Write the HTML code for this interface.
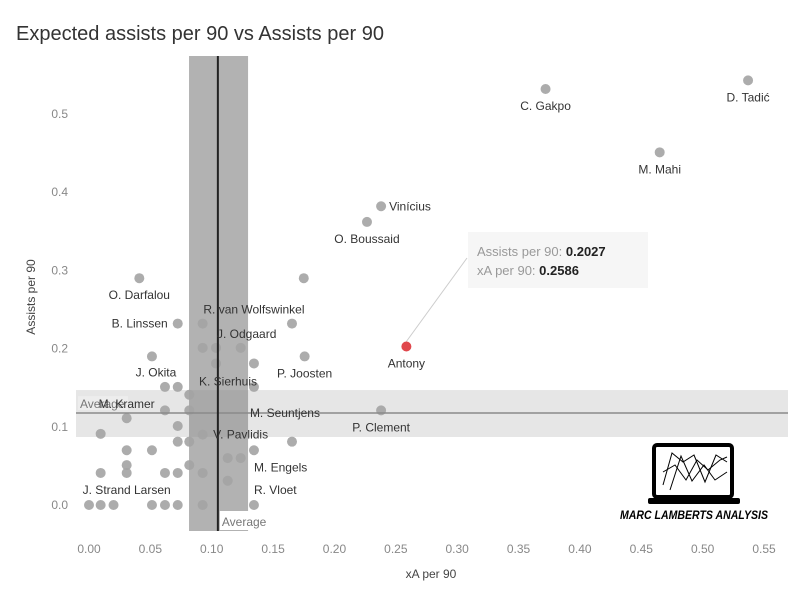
<!DOCTYPE html>
<html><head><meta charset="utf-8"><style>
body{margin:0;background:#fff;width:799px;height:599px;overflow:hidden;font-family:"Liberation Sans",sans-serif}
</style></head><body>
<svg id="chart" width="799" height="599" xmlns="http://www.w3.org/2000/svg" style="font-family:'Liberation Sans',sans-serif">
<text x="16" y="40" font-size="20" fill="#333">Expected assists per 90 vs Assists per 90</text>
<g id="plot"></g>
</svg>
<script>
const xTicks=[0,0.05,0.1,0.15,0.2,0.25,0.3,0.35,0.4,0.45,0.5,0.55];
const xTickLabels=["0.00","0.05","0.10","0.15","0.20","0.25","0.30","0.35","0.40","0.45","0.50","0.55"];
const yTicks=[0,0.1,0.2,0.3,0.4,0.5];
const yTickLabels=["0.0","0.1","0.2","0.3","0.4","0.5"];
const xVals=[0.041,0.175,0.372,0.537,0.465,0.238,0.2265,0.238,0.0723,0.0926,0.1654,0.0926,0.1035,0.1236,0.0513,0.1035,0.1344,0.1757,0.0619,0.0723,0.1344,0.0817,0.0619,0.0817,0.0307,0.0723,0.0095,0.0926,0.0723,0.0817,0.1654,0.1344,0.0307,0.0513,0.0307,0.0817,0.113,0.1236,0.0095,0.0307,0.0619,0.0723,0.0926,0.113,0,0.0095,0.02,0.0513,0.0619,0.0723,0.0926,0.1344];
const yVals=[0.29,0.29,0.532,0.543,0.451,0.382,0.362,0.121,0.232,0.232,0.232,0.201,0.201,0.201,0.19,0.181,0.181,0.19,0.151,0.151,0.151,0.141,0.121,0.121,0.111,0.101,0.091,0.09,0.081,0.081,0.081,0.07,0.07,0.07,0.051,0.051,0.06,0.06,0.041,0.041,0.041,0.041,0.041,0.031,0,0,0,0,0,0,0,0];
const highlightX=0.2586, highlightY=0.2027;
const avgX=0.105, avgXBand=[0.0815,0.1296];
const avgY=0.1176, avgYBand=[0.087,0.147];
const labelNames=["C. Gakpo","D. Tadić","M. Mahi","Vinícius","O. Boussaid","O. Darfalou","R. van Wolfswinkel","B. Linssen","J. Odgaard","J. Okita","P. Joosten","K. Sierhuis","M. Kramer","M. Seuntjens","V. Pavlidis","P. Clement","Antony","M. Engels","J. Strand Larsen","R. Vloet"];
const labelX=[0.372,0.537,0.465,0.238,0.2265,0.041,0.1344,0.0723,0.1236,0.0513,0.1757,0.1035,0.0307,0.1344,0.0926,0.238,0.2586,0.1344,0.0307,0.1344];
const labelY=[0.532,0.543,0.451,0.382,0.362,0.29,0.232,0.232,0.201,0.19,0.19,0.181,0.111,0.151,0.09,0.121,0.2027,0.07,0.041,0];
const labelDX=[0,0,0,8,0,0,0,-10,6,4,0,12,0,-4,38,0,0,0,0,0];
const labelDY=[21,21,21,4,21,21,-10,4,-10,20,21,22,-10,30,4,21,21,21,21,-11];
const labelAnchor=["middle","middle","middle","start","middle","middle","middle","end","middle","middle","middle","middle","middle","start","middle","middle","middle","start","middle","start"];

const NS="http://www.w3.org/2000/svg";
const L=76,R=788,T=56,B=531;
const sx=v=>89+v*1227.3, sy=v=>505-v*782;
const g=document.getElementById('plot');
function mk(t,a){const e=document.createElementNS(NS,t);for(const k in a)e.setAttribute(k,a[k]);g.appendChild(e);return e;}
let e;
e=mk('rect',{x:L,y:sy(avgYBand[1]),width:R-L,height:sy(avgYBand[0])-sy(avgYBand[1]),fill:'#e6e6e6'});


e=mk('rect',{x:sx(avgXBand[0]),y:T,width:sx(avgXBand[1])-sx(avgXBand[0]),height:B-T,fill:'#888','fill-opacity':0.65});


for(let i=0;i<xVals.length;i++){e=mk('circle',{cx:sx(xVals[i]),cy:sy(yVals[i]),r:5,fill:'#a3a3a3','fill-opacity':0.9});

}
e=mk('line',{x1:L,x2:R,y1:sy(avgY),y2:sy(avgY),stroke:'#8a8a8a','stroke-width':1.5});


e=mk('line',{x1:sx(avgX),x2:sx(avgX),y1:T,y2:B,stroke:'#222','stroke-width':2});


e=mk('rect',{x:78,y:sy(avgY)-17,width:50,height:14,fill:'#f0f0f0','fill-opacity':0.7});


e=mk('text',{x:80,y:sy(avgY)-5,'font-size':12,fill:'#777'});e.textContent='Average';


e=mk('rect',{x:sx(avgX)+2,y:511,width:50,height:19,fill:'#fff'});


e=mk('text',{x:sx(avgX)+4,y:526,'font-size':12,fill:'#777'});e.textContent='Average';


e=mk('line',{x1:sx(highlightX),y1:sy(highlightY)-5,x2:467,y2:258,stroke:'#ccc','stroke-width':1});


e=mk('circle',{cx:sx(highlightX),cy:sy(highlightY),r:5,fill:'#e0474c'});


e=mk('rect',{x:468,y:232,width:180,height:56,fill:'#f6f6f6'});


e=mk('text',{x:477,y:256,'font-size':13,fill:'#999'});e.innerHTML='Assists per 90: <tspan fill="#222" font-weight="bold">'+highlightY.toFixed(4)+'</tspan>';


e=mk('text',{x:477,y:275,'font-size':13,fill:'#999'});e.innerHTML='xA per 90: <tspan fill="#222" font-weight="bold">'+highlightX.toFixed(4)+'</tspan>';


for(let i=0;i<labelNames.length;i++){e=mk('text',{x:sx(labelX[i])+labelDX[i],y:sy(labelY[i])+labelDY[i],'font-size':12,fill:'#333','text-anchor':labelAnchor[i]});e.textContent=labelNames[i];

}
for(let i=0;i<xTicks.length;i++){e=mk('text',{x:sx(xTicks[i]),y:553,'font-size':12,fill:'#888','text-anchor':'middle'});e.textContent=xTickLabels[i];

}
for(let i=0;i<yTicks.length;i++){e=mk('text',{x:68,y:sy(yTicks[i])+4,'font-size':12,fill:'#888','text-anchor':'end'});e.textContent=yTickLabels[i];

}
e=mk('text',{x:431,y:578,'font-size':12,fill:'#444','text-anchor':'middle'});e.textContent='xA per 90';


e=mk('text',{x:0,y:0,'font-size':12,fill:'#444','text-anchor':'middle',transform:'translate(35,297) rotate(-90)'});e.textContent='Assists per 90';


const lg=document.createElementNS(NS,'g');
lg.innerHTML='<rect x="654" y="445" width="78" height="52" rx="3" fill="#fff" stroke="#000" stroke-width="4"/><rect x="648" y="498" width="92" height="6" rx="2" fill="#000"/><polyline points="663,485 672,453 683,462 694,455 705,482 716,455 727,462" fill="none" stroke="#000" stroke-width="1"/><polyline points="663,472 675,465 686,480 697,460 708,470 720,460 727,457" fill="none" stroke="#000" stroke-width="1"/><polyline points="670,490 681,456 692,481 704,465 715,480 727,472" fill="none" stroke="#000" stroke-width="1"/><text x="694" y="519" font-size="12" font-weight="bold" font-style="italic" text-anchor="middle" fill="#000" textLength="148" lengthAdjust="spacingAndGlyphs">MARC LAMBERTS ANALYSIS</text>';
g.appendChild(lg);
</script>
</body></html>
